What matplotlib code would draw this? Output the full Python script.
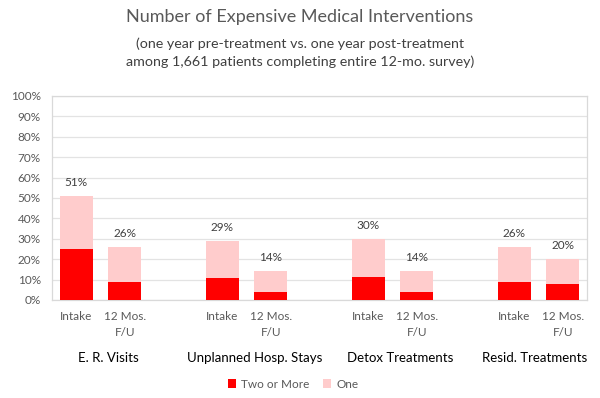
import matplotlib
matplotlib.use("Agg")
import matplotlib.pyplot as plt
import numpy as np

plt.rcParams['font.family'] = ['Lato', 'DejaVu Sans']

groups = ["E. R. Visits", "Unplanned Hosp. Stays", "Detox Treatments", "Resid. Treatments"]
timepoints = ["Intake", "12 Mos.\nF/U"]
two_or_more = [25, 9, 11, 4, 11.5, 4, 9, 8]
one = [26, 17, 18, 10, 18.5, 10, 17, 12]
totals = [51, 26, 29, 14, 30, 14, 26, 20]
yticks = [0, 10, 20, 30, 40, 50, 60, 70, 80, 90, 100]

c_two = "#ff0000"
c_one = "#ffcccc"
grey = "#595959"

fig = plt.figure(figsize=(6, 3.98), dpi=100)
ax = fig.add_axes([52/600, (398-300)/398, (587-52)/600, (300-96)/398])

# positions: 11 slots, blank slot between groups
pos = []
for g in range(len(groups)):
    pos += [g*3, g*3+1]
pos = np.array(pos)

ax.bar(pos, two_or_more, width=0.68, color=c_two, label="Two or More", zorder=3)
ax.bar(pos, one, width=0.68, bottom=two_or_more, color=c_one, label="One", zorder=3)

for x, t in zip(pos, totals):
    ax.text(x, t + 6.7, f"{t}%", ha="center", va="center", fontsize=8.5, color="#404040")

ax.set_xlim(-0.5, 10.5)
ax.set_ylim(0, 100)
ax.set_yticks(yticks)
ax.set_yticklabels([f"{v}%" for v in yticks], fontsize=8.5, color=grey)
ax.grid(axis="y", color="#e3e3e3", linewidth=0.9, zorder=0)
ax.set_xticks(pos)
ax.set_xticklabels(timepoints * len(groups), fontsize=8.5, color=grey, va="top", linespacing=1.5)
ax.tick_params(axis="x", length=0, pad=8)
ax.tick_params(axis="y", length=0, pad=8)
for s in ax.spines.values():
    s.set_color("#d9d9d9")
    s.set_linewidth(0.9)

for g, name in enumerate(groups):
    if g < len(groups) - 1:
        ax.text(g*3 + 0.66, -28.5, name, ha="center", va="center", fontsize=9.5, color="black",
                clip_on=False)
    else:
        ax.text(10.5, -28.5, name, ha="right", va="center", fontsize=9.5, color="black",
                clip_on=False)

fig.text(0.5, 1 - 17/398, "Number of Expensive Medical Interventions", ha="center", va="center",
         fontsize=13, color=grey)
fig.text(0.5, 1 - 52.5/398, "(one year pre-treatment vs. one year post-treatment\namong 1,661 patients completing entire 12-mo. survey)",
         ha="center", va="center", fontsize=10.3, color="#404040", linespacing=1.55)

leg = fig.legend(loc="center", bbox_to_anchor=(293/600, 1 - 384/398), ncol=2, frameon=False,
                 fontsize=8.5, handlelength=0.7, handleheight=0.7, handletextpad=0.4, columnspacing=1.2)
for t in leg.get_texts():
    t.set_color(grey)

fig.savefig("out.png", dpi=100, facecolor="white")
